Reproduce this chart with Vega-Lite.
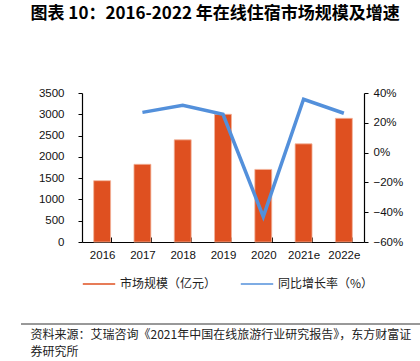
{
  "$schema": "https://vega.github.io/schema/vega-lite/v6.json",
  "padding": {"left": 20, "top": 5, "right": 0, "bottom": 0},
  "title": {
    "text": "图表 10：2016-2022 年在线住宿市场规模及增速",
    "font": "Noto Sans CJK SC",
    "fontSize": 17,
    "fontWeight": "bold",
    "color": "#000000",
    "anchor": "start",
    "dx": 10,
    "offset": 64
  },
  "spacing": 33,
  "resolve": {"scale": {"color": "independent"}, "legend": {"color": "independent"}},
  "vconcat": [
    {
      "width": 282,
      "height": 149,
      "data": {
        "values": [
          {"year": "2016", "size": 1440, "growth": null},
          {"year": "2017", "size": 1825, "growth": 0.27},
          {"year": "2018", "size": 2400, "growth": 0.317},
          {"year": "2019", "size": 3000, "growth": 0.257},
          {"year": "2020", "size": 1705, "growth": -0.43},
          {"year": "2021e", "size": 2305, "growth": 0.358},
          {"year": "2022e", "size": 2905, "growth": 0.264}
        ]
      },
      "encoding": {
        "x": {
          "field": "year",
          "type": "ordinal",
          "sort": null,
          "scale": {"paddingInner": 0.58, "paddingOuter": 0.29},
          "axis": {
            "title": null,
            "labelAngle": 0,
            "tickBand": "extent",
            "tickSize": -5,
            "labelPadding": 12,
            "labelFontSize": 11.5
          }
        }
      },
      "layer": [
        {
          "mark": {"type": "bar", "stroke": "#F3B49A", "strokeWidth": 0.8},
          "encoding": {
            "y": {
              "field": "size",
              "type": "quantitative",
              "scale": {"domain": [0, 3500], "nice": false},
              "axis": {
                "title": null,
                "values": [0, 500, 1000, 1500, 2000, 2500, 3000, 3500],
                "format": "d",
                "labelPadding": 14,
                "tickSize": 4,
                "minExtent": 61,
                "labelFontSize": 11.5
              }
            },
            "color": {
              "datum": "市场规模（亿元）",
              "type": "nominal",
              "scale": {
                "domain": ["市场规模（亿元）", "同比增长率（%）"],
                "range": ["#DF5020", "#5390DB"]
              },
              "legend": {
                "title": null,
                "orient": "bottom",
                "direction": "horizontal",
                "offset": 6,
                "labelFont": "Noto Sans CJK SC",
                "labelFontSize": 12,
                "labelColor": "#222222",
                "labelOffset": 4,
                "columnPadding": 20,
                "symbolSize": 1050,
                "symbolType": "stroke",
                "encode": {
                  "symbols": {
                    "update": {
                      "shape": {"value": "stroke"},
                      "stroke": {"scale": "color", "field": "value"},
                      "strokeWidth": {"signal": "datum.value === '市场规模（亿元）' ? 6 : 3.5"},
                      "fill": {"value": "transparent"},
                      "strokeOpacity": {"value": 1}
                    }
                  }
                }
              }
            }
          }
        },
        {
          "mark": {"type": "line", "strokeWidth": 3.5},
          "encoding": {
            "y": {
              "field": "growth",
              "type": "quantitative",
              "scale": {"domain": [-0.6, 0.4], "nice": false},
              "axis": {
                "title": null,
                "orient": "right",
                "values": [-0.6, -0.4, -0.2, 0, 0.2, 0.4],
                "format": ".0%",
                "labelPadding": 5,
                "tickSize": 4,
                "labelFontSize": 11.5
              }
            },
            "color": {"datum": "同比增长率（%）", "type": "nominal"}
          }
        }
      ],
      "resolve": {"scale": {"y": "independent"}}
    },
    {
      "width": 339,
      "height": 1,
      "data": {"values": [{"v": 0}]},
      "mark": {"type": "rule", "color": "#333333", "strokeWidth": 1},
      "encoding": {
        "x": {"datum": -61, "type": "quantitative", "scale": {"domain": [0, 339], "nice": false, "zero": false}, "axis": null},
        "x2": {"datum": 339},
        "y": {"datum": 0, "type": "quantitative", "axis": null}
      },
      "title": {
        "text": ["资料来源：艾瑞咨询《2021年中国在线旅游行业研究报告》，东方财富证", "券研究所"],
        "orient": "bottom",
        "anchor": "start",
        "frame": "bounds",
        "dx": 10,
        "offset": 5,
        "font": "Noto Sans CJK SC",
        "fontSize": 12,
        "fontWeight": "normal",
        "color": "#222222",
        "lineHeight": 17
      }
    }
  ],
  "config": {
    "view": {"stroke": null},
    "font": "Liberation Sans",
    "axis": {
      "grid": false,
      "domainColor": "#000000",
      "tickColor": "#000000",
      "labelColor": "#111111",
      "labelFont": "Liberation Sans",
      "domainWidth": 1.2,
      "tickWidth": 1
    }
  }
}
